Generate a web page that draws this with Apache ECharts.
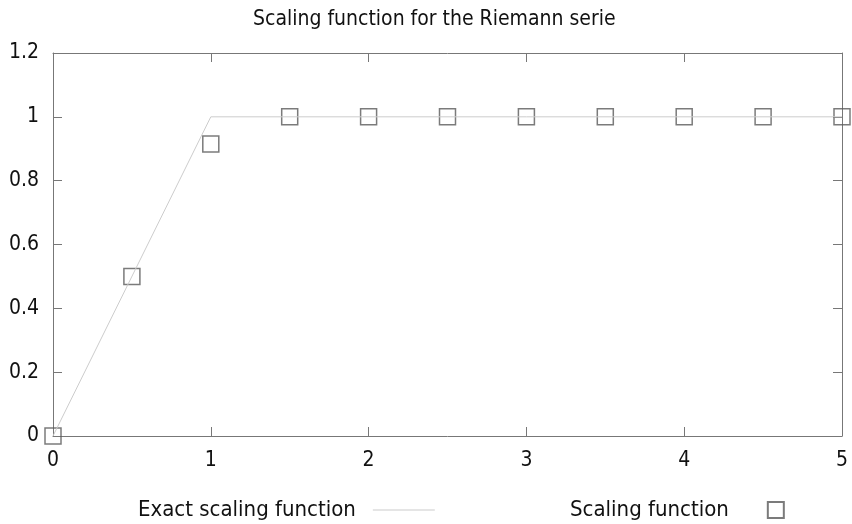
<!DOCTYPE html>
<html><head><meta charset="utf-8">
<script src="https://cdn.jsdelivr.net/npm/echarts@6/dist/echarts.min.js"></script>
<style>html,body{margin:0;padding:0;background:#fff}#c{width:852px;height:524px}</style>
</head><body><div id="c"></div>
<script>
const titleText = 'Scaling function for the Riemann serie';
const exactX = [0, 1, 5];
const exactY = [0, 1, 1];
const scaleX = [0, 0.5, 1, 1.5, 2, 2.5, 3, 3.5, 4, 4.5, 5];
const scaleY = [0, 0.5, 0.915, 1, 1, 1, 1, 1, 1, 1, 1];
const seriesNames = ['Exact scaling function', 'Scaling function'];

const FONT = 'DejaVu Sans Condensed';
const axisCol = '#777';
const chart = echarts.init(document.getElementById('c'));
const tickCommon = {show: true, inside: true, length: 9, lineStyle: {color: axisCol, width: 1}};
const lineCommon = {show: true, onZero: false, lineStyle: {color: axisCol, width: 1}};
chart.setOption({
  animation: false,
  title: {text: titleText, left: 248, top: 4,
    textStyle: {fontFamily: FONT, fontSize: 21, fontWeight: 'normal', color: '#111'}},
  grid: {left: 53, right: 10, top: 53, bottom: 88, containLabel: false},
  legend: [
    {data: [{name: seriesNames[0], icon: 'rect', itemStyle: {color: '#cccccc'}}],
      left: 133, top: 494, align: 'right', itemWidth: 62, itemHeight: 1,
      textStyle: {fontFamily: FONT, fontSize: 22, color: '#111', padding: [0, 12, 0, 0]}},
    {data: [seriesNames[1]], left: 565, top: 494, align: 'right', itemWidth: 16, itemHeight: 16, itemGap: 0,
      textStyle: {fontFamily: FONT, fontSize: 22, color: '#111', padding: [0, 34, 0, 0]}}
  ],
  xAxis: [
    {type: 'value', min: 0, max: 5, interval: 1, position: 'bottom',
      axisLine: lineCommon, axisTick: tickCommon, splitLine: {show: false},
      axisLabel: {fontFamily: FONT, fontSize: 21, color: '#111', margin: 14}},
    {type: 'value', min: 0, max: 5, interval: 1, position: 'top',
      axisLine: lineCommon, axisTick: tickCommon, splitLine: {show: false},
      axisLabel: {show: false}}
  ],
  yAxis: [
    {type: 'value', min: 0, max: 1.2, interval: 0.2, position: 'left',
      axisLine: lineCommon, axisTick: tickCommon, splitLine: {show: false},
      axisLabel: {fontFamily: FONT, fontSize: 21, color: '#111', margin: 14,
        formatter: v => String(Math.round(v * 10) / 10)}},
    {type: 'value', min: 0, max: 1.2, interval: 0.2, position: 'right',
      axisLine: lineCommon, axisTick: tickCommon, splitLine: {show: false},
      axisLabel: {show: false}}
  ],
  series: [
    {name: seriesNames[0], type: 'line', symbol: 'none', clip: false,
      data: exactX.map((x, i) => [x, exactY[i]]),
      lineStyle: {color: '#cccccc', width: 1}, itemStyle: {color: '#cccccc'}},
    {name: seriesNames[1], type: 'scatter', symbol: 'rect', symbolSize: 16, clip: false,
      data: scaleX.map((x, i) => [x, scaleY[i]]),
      itemStyle: {color: 'rgba(255,255,255,0)', borderColor: '#5a5a5a', borderWidth: 1.5}}
  ]
});
</script></body></html>
